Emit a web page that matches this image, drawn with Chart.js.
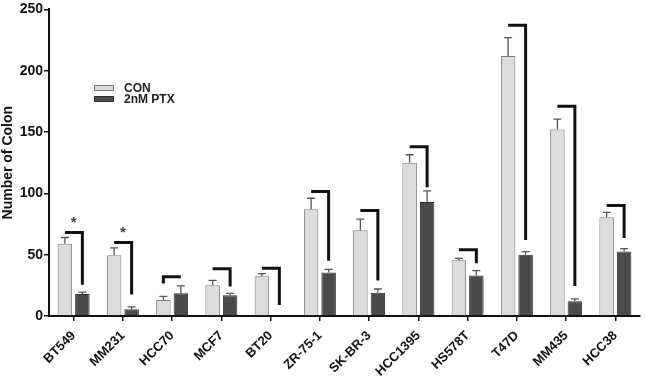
<!DOCTYPE html>
<html>
<head>
<meta charset="utf-8">
<script src="https://cdn.jsdelivr.net/npm/chart.js@4.4.1/dist/chart.umd.min.js"></script>
<style>
  html, body { margin: 0; padding: 0; background: #fff; }
  #wrap { width: 645px; height: 376px; }
</style>
</head>
<body>
<div id="wrap"><canvas id="colonyChart" width="645" height="376"></canvas></div>
<script>
const categories = ['BT549', 'MM231', 'HCC70', 'MCF7', 'BT20', 'ZR-75-1', 'SK-BR-3', 'HCC1395', 'HS578T', 'T47D', 'MM435', 'HCC38'];
const conMean = [59, 49.5, 13, 25, 32.5, 87, 70, 125, 45.5, 212, 152, 80.5];
const conErr = [5, 6, 3, 4, 2, 9, 9, 6.5, 1.5, 15, 8.5, 4];
const ptxMean = [18, 5.5, 18.5, 17, 0, 35.5, 19, 93, 33, 50, 12, 52.5];
const ptxErr = [1.5, 2, 6, 1.5, 0, 2.5, 3, 9, 4, 2.5, 2, 2.5];
// significance brackets: level of the bar and where the drop ends
const bracketTop = [68, 60, 32, 38.5, 39, 101.5, 86, 138, 54, 237, 171, 90];
const bracketEnd = [25.5, 17.5, 26.5, 24, 9, 45, 29, 105, 43, 62, 24.5, 63.5];
const stars = ['*', '*', '', '', '', '', '', '', '', '', '', ''];
const yTicks = [0, 50, 100, 150, 200, 250];

const FONT = 'Liberation Sans, Arial, sans-serif';

// error bars (upper half only, like prism)
const errorBars = {
    id: 'errorBars',
    afterDatasetsDraw(chart) {
        const ctx = chart.ctx;
        const y = chart.scales.y;
        const errs = [conErr, ptxErr];
        ctx.save();
        ctx.strokeStyle = '#555';
        ctx.lineWidth = 1.3;
        errs.forEach((errList, d) => {
            const meta = chart.getDatasetMeta(d);
            meta.data.forEach((bar, i) => {
                if (!errList[i]) return;
                const v = chart.data.datasets[d].data[i];
                const top = y.getPixelForValue(v + errList[i]);
                ctx.beginPath();
                ctx.moveTo(bar.x, bar.y);
                ctx.lineTo(bar.x, top);
                ctx.moveTo(bar.x - 4, top);
                ctx.lineTo(bar.x + 4, top);
                ctx.stroke();
            });
        });
        ctx.restore();
    }
};

const brackets = {
    id: 'brackets',
    afterDatasetsDraw(chart) {
        const ctx = chart.ctx;
        const x = chart.scales.x;
        const y = chart.scales.y;
        const conBars = chart.getDatasetMeta(0).data;
        const ptxBars = chart.getDatasetMeta(1).data;
        ctx.save();
        ctx.strokeStyle = '#111';
        ctx.lineWidth = 3;
        ctx.lineJoin = 'miter';
        categories.forEach((c, i) => {
            const yTop = y.getPixelForValue(bracketTop[i]);
            const yEnd = y.getPixelForValue(bracketEnd[i]);
            // drop goes on the side of the lower bar
            let from = conBars[i].x, to = ptxBars[i].x;
            if (conMean[i] < ptxMean[i]) { from = ptxBars[i].x; to = conBars[i].x; }
            ctx.beginPath();
            ctx.moveTo(from, yTop);
            ctx.lineTo(to, yTop);
            ctx.lineTo(to, yEnd);
            ctx.stroke();
            if (stars[i]) {
                ctx.fillStyle = '#444';
                ctx.font = 'bold 15px ' + FONT;
                ctx.textAlign = 'center';
                ctx.textBaseline = 'middle';
                ctx.fillText(stars[i], x.getPixelForValue(i), yTop - 10);
            }
        });
        ctx.restore();
    }
};

const boxLegend = {
    id: 'boxLegend',
    afterDraw(chart) {
        const ctx = chart.ctx;
        ctx.save();
        ctx.font = 'bold 12px ' + FONT;
        ctx.textBaseline = 'middle';
        ctx.textAlign = 'left';
        chart.data.datasets.forEach((ds, d) => {
            const top = 85 + d * 11;
            ctx.fillStyle = ds.backgroundColor;
            ctx.fillRect(94, top, 20, 6);
            ctx.strokeStyle = ds.borderColor;
            ctx.lineWidth = 1;
            ctx.strokeRect(94.5, top + 0.5, 19, 5);
            ctx.fillStyle = '#222';
            ctx.fillText(ds.label, 124, top + 3.5);
        });
        ctx.restore();
    }
};

new Chart(document.getElementById('colonyChart'), {
    type: 'bar',
    data: {
        labels: categories,
        datasets: [
            {
                label: 'CON',
                data: conMean,
                backgroundColor: '#dcdcdc',
                borderColor: '#7a7a7a',
                borderWidth: 1,
                categoryPercentage: 0.71,
                barPercentage: 0.83
            },
            {
                label: '2nM PTX',
                data: ptxMean,
                backgroundColor: '#4a4a4a',
                borderColor: '#2e2e2e',
                borderWidth: 1,
                categoryPercentage: 0.71,
                barPercentage: 0.83
            }
        ]
    },
    options: {
        responsive: false,
        animation: false,
        layout: { padding: { top: 8, right: 5, left: 0, bottom: 0 } },
        plugins: {
            legend: { display: false },
            tooltip: { enabled: false }
        },
        scales: {
            x: {
                afterFit(scale) { scale.height = 60; },
                grid: { display: true, drawOnChartArea: false, drawTicks: true, tickLength: 5, offset: false, color: '#111', lineWidth: 1.5 },
                border: { display: true, color: '#111', width: 2 },
                ticks: {
                    autoSkip: false,
                    minRotation: 45,
                    maxRotation: 45,
                    padding: 7,
                    color: '#111',
                    font: { family: FONT, size: 13, weight: 'bold' }
                }
            },
            y: {
                min: 0,
                max: 250,
                afterFit(scale) { scale.width = 49; },
                afterBuildTicks(scale) { scale.ticks = yTicks.map(v => ({ value: v })); },
                grid: { display: true, drawOnChartArea: false, drawTicks: true, tickLength: 5, color: '#111', lineWidth: 1.5 },
                border: { display: true, color: '#111', width: 2 },
                ticks: {
                    padding: 1,
                    color: '#111',
                    font: { family: FONT, size: 14, weight: 'bold' }
                },
                title: {
                    display: true,
                    text: 'Number of Colon',
                    color: '#111',
                    padding: { top: 0, bottom: 0 },
                    font: { family: FONT, size: 14, weight: 'bold' }
                }
            }
        }
    },
    plugins: [errorBars, brackets, boxLegend]
});
</script>
</body>
</html>
